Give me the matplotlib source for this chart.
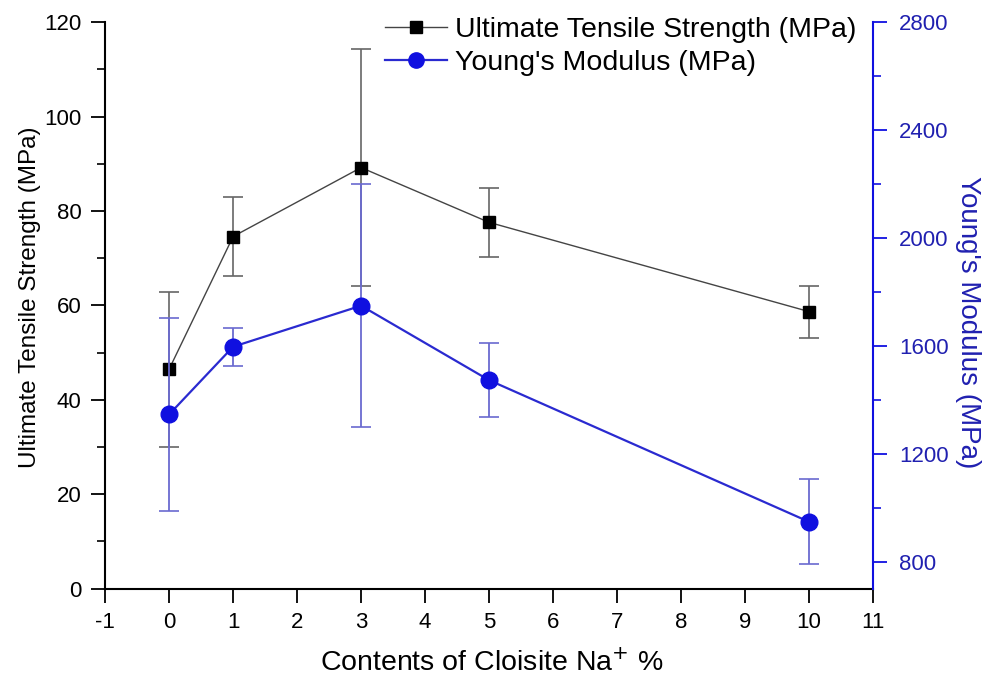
import matplotlib
matplotlib.use("Agg")
import matplotlib.pyplot as plt
from matplotlib.ticker import MultipleLocator
from matplotlib.lines import Line2D

plt.rcParams['font.family'] = ['Liberation Sans', 'DejaVu Sans']
plt.rcParams['axes.unicode_minus'] = False

content = [0, 1, 3, 5, 10]
uts = [46.5, 74.6, 89.2, 77.6, 58.7]
uts_err = [16.4, 8.4, 25.1, 7.3, 5.5]
ym = [1346, 1597, 1749, 1473, 948]
ym_err = [358, 71, 450, 138, 158]

blue = '#1010e0'
fig = plt.figure(figsize=(9.92, 6.93), dpi=100)
ax = fig.add_axes([0.106, 0.1505, 0.774, 0.8175])
ax2 = ax.twinx()

ax.errorbar(content, uts, yerr=uts_err, color='#444444', lw=1.0, marker='s', ms=9,
            mfc='black', mec='black', ecolor='#666666', elinewidth=1.2, capsize=7,
            capthick=1.2, zorder=3)
ax2.errorbar(content, ym, yerr=ym_err, color='#2a2ad0', lw=1.6, marker='o', ms=12,
             mfc=blue, mec=blue, ecolor='#6a6ad0', elinewidth=1.3, capsize=7,
             capthick=1.2, zorder=2)

ax.set_xlim(-1, 11)
ax.set_ylim(0, 120)
ax2.set_ylim(700, 2800)
ax.xaxis.set_major_locator(MultipleLocator(1))
ax.yaxis.set_major_locator(MultipleLocator(20))
ax.yaxis.set_minor_locator(MultipleLocator(10))
ax2.yaxis.set_major_locator(MultipleLocator(400))
ax2.yaxis.set_minor_locator(MultipleLocator(200))
ax2.set_yticks([800, 1200, 1600, 2000, 2400, 2800])

for a in (ax, ax2):
    a.spines['top'].set_visible(False)
ax.spines['right'].set_visible(False)
ax2.spines['left'].set_visible(False)
ax2.spines['bottom'].set_visible(False)
ax.spines['left'].set_linewidth(1.5)
ax.spines['bottom'].set_linewidth(1.5)
ax2.spines['right'].set_linewidth(1.5)
ax2.spines['right'].set_color(blue)

ax.tick_params(axis='both', which='major', direction='out', length=10, width=1.3,
               labelsize=16, pad=7)
ax.tick_params(axis='y', which='minor', direction='out', length=6, width=1.2)
ax2.tick_params(axis='y', which='major', direction='out', length=10, width=1.3,
                labelsize=16, colors=blue, pad=9)
ax2.tick_params(axis='y', which='minor', direction='out', length=6, width=1.2, colors=blue)
for t in ax2.get_yticklabels():
    t.set_color('#2020b0')

ax.set_xlabel('Contents of Cloisite Na$^{+}$ %', fontsize=20.5, va='center')
ax.set_ylabel('Ultimate Tensile Strength (MPa)', fontsize=17.5, va='center')
ax2.set_ylabel("Young's Modulus (MPa)", fontsize=20, color='#2020b0', rotation=270,
               va='center')
ax.xaxis.set_label_coords(0.504, -0.131)
ax.yaxis.set_label_coords(-0.098, 0.515)
ax2.yaxis.set_label_coords(1.124, 0.47)

handles = [
    Line2D([], [], color='#444444', lw=1.0, marker='s', ms=9, mfc='black', mec='black'),
    Line2D([], [], color='#2a2ad0', lw=1.6, marker='o', ms=11, mfc=blue, mec=blue),
]
ax.legend(handles, ['Ultimate Tensile Strength (MPa)', "Young's Modulus (MPa)"],
          loc='upper right', bbox_to_anchor=(1.0, 1.04), frameon=False, fontsize=20.5,
          handlelength=2.2, handletextpad=0.25, labelspacing=0.25, borderaxespad=0.2)

fig.savefig('out.png', dpi=100)
